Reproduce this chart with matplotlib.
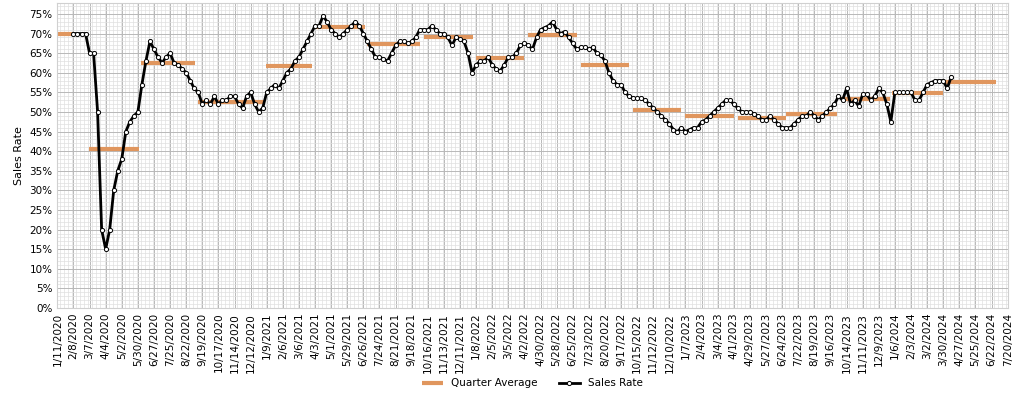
import matplotlib
matplotlib.use("Agg")
import matplotlib.pyplot as plt
import matplotlib.dates as mdates
from matplotlib.ticker import MultipleLocator, PercentFormatter
import numpy as np
import pandas as pd

# weekly sales rate (%), starting 2/8/2020
START = "2020-02-08"
rate = [
    70, 70, 70, 70, 65, 65, 50, 20, 15, 20, 30, 35, 38, 45, 47.5, 49, 50,
    57, 63, 68, 66, 64, 62.5, 64, 65, 62.5, 62, 61, 60, 58, 56, 55, 52,
    53, 52, 54, 52, 53, 53, 54, 54, 52, 51, 54, 55, 52, 50, 51, 55, 56,
    57, 56, 58, 60, 61, 63, 64, 66, 68, 70, 72, 72, 74.5, 73, 71, 70, 69,
    70, 71, 72, 73, 72, 70, 68, 66, 64, 64, 63.5, 63, 65, 67, 68, 68,
    67.5, 68, 69, 71, 71, 71, 72, 71, 70, 70, 69, 67, 69, 68.5, 68, 65,
    60, 62, 63, 63, 64, 62, 61, 60.5, 62, 64, 64, 65, 67, 67.5, 67, 66,
    69, 71, 71.5, 72, 73, 71, 70, 70.5, 69, 67.5, 66, 66.5, 66.5, 66, 66.5,
    65, 64.5, 63, 60, 58, 57, 57, 55, 54, 53.5, 53.5, 53.5, 53, 52, 51,
    50, 49, 48, 47, 45.5, 45, 46, 45, 45.5, 46, 46, 47.5, 48, 49, 50, 51,
    52, 53, 53, 52, 51, 50, 50, 50, 49.5, 49, 48, 48, 49, 48, 47, 46, 46,
    46, 47, 48, 49, 49, 50, 49, 48, 49, 50, 51, 52, 54, 53, 56, 52, 53,
    51.5, 54.5, 54.5, 53, 54, 56, 55, 52, 47.5, 55, 55, 55, 55, 55, 53,
    53, 55, 57, 57.5, 58, 58, 58, 56, 59,
]

# quarter averages (%): segment start/end dates
q_start = ["2020-01-11", "2020-03-06", "2020-06-04", "2020-09-11", "2021-01-08",
           "2021-04-03", "2021-07-02", "2021-10-09", "2022-01-08", "2022-04-09",
           "2022-07-09", "2022-10-08", "2023-01-07", "2023-04-08", "2023-07-01",
           "2023-10-05", "2024-01-01", "2024-04-01"]
q_end = ["2020-02-08", "2020-06-01", "2020-09-06", "2021-01-04", "2021-03-28",
         "2021-06-29", "2021-10-02", "2022-01-02", "2022-04-02", "2022-07-02",
         "2022-10-01", "2022-12-31", "2023-04-01", "2023-07-01", "2023-09-27",
         "2023-12-29", "2024-03-30", "2024-06-29"]
q_avg = [70, 40.5, 62.5, 52.5, 61.7, 71.7, 67.3, 69.2, 63.7, 69.6,
         62, 50.5, 49, 48.5, 49.4, 53.2, 54.9, 57.7]

dates = pd.date_range(START, periods=len(rate), freq="7D")
ticks = pd.date_range("2020-01-11", "2024-07-20", freq="28D")

fig = plt.figure(figsize=(10.24, 4), dpi=100)
ax = fig.add_axes([0.056, 0.23, 0.928, 0.7625])

for i, (s, e, v) in enumerate(zip(q_start, q_end, q_avg)):
    ax.plot([pd.Timestamp(s), pd.Timestamp(e)], [v / 100, v / 100], color="#E0965E",
            lw=3, solid_capstyle="butt", label="Quarter Average" if i == 0 else None, zorder=2)

ax.plot(dates, np.array(rate) / 100, color="black", lw=2, marker="o", ms=3,
        mfc="white", mec="black", mew=0.7, label="Sales Rate", zorder=3)

ax.set_xlim(pd.Timestamp("2020-01-11"), pd.Timestamp("2024-07-20"))
ax.set_ylim(0, 0.778)
ax.set_xticks(ticks)
ax.set_xticklabels([f"{d.month}/{d.day}/{d.year}" for d in ticks], rotation=90, fontsize=7.5)
ax.xaxis.set_minor_locator(mdates.DayLocator(interval=7))
ax.yaxis.set_major_locator(MultipleLocator(0.05))
ax.yaxis.set_minor_locator(MultipleLocator(0.01))
ax.yaxis.set_major_formatter(PercentFormatter(1.0, decimals=0))
ax.tick_params(axis="y", labelsize=7.5, length=0)
ax.tick_params(axis="x", length=0)
ax.tick_params(which="minor", length=0)
ax.grid(which="major", color="#b8b8b8", lw=0.7)
ax.grid(which="minor", color="#e0e0e0", lw=0.5)
ax.set_axisbelow(True)
for sp in ax.spines.values():
    sp.set_edgecolor("#d0d0d0")
ax.set_ylabel("Sales Rate", fontsize=8)

ax.legend(loc="upper center", bbox_to_anchor=(0.5, -0.2), ncol=2, frameon=False, fontsize=7.5)

fig.savefig("out.png", dpi=100)
